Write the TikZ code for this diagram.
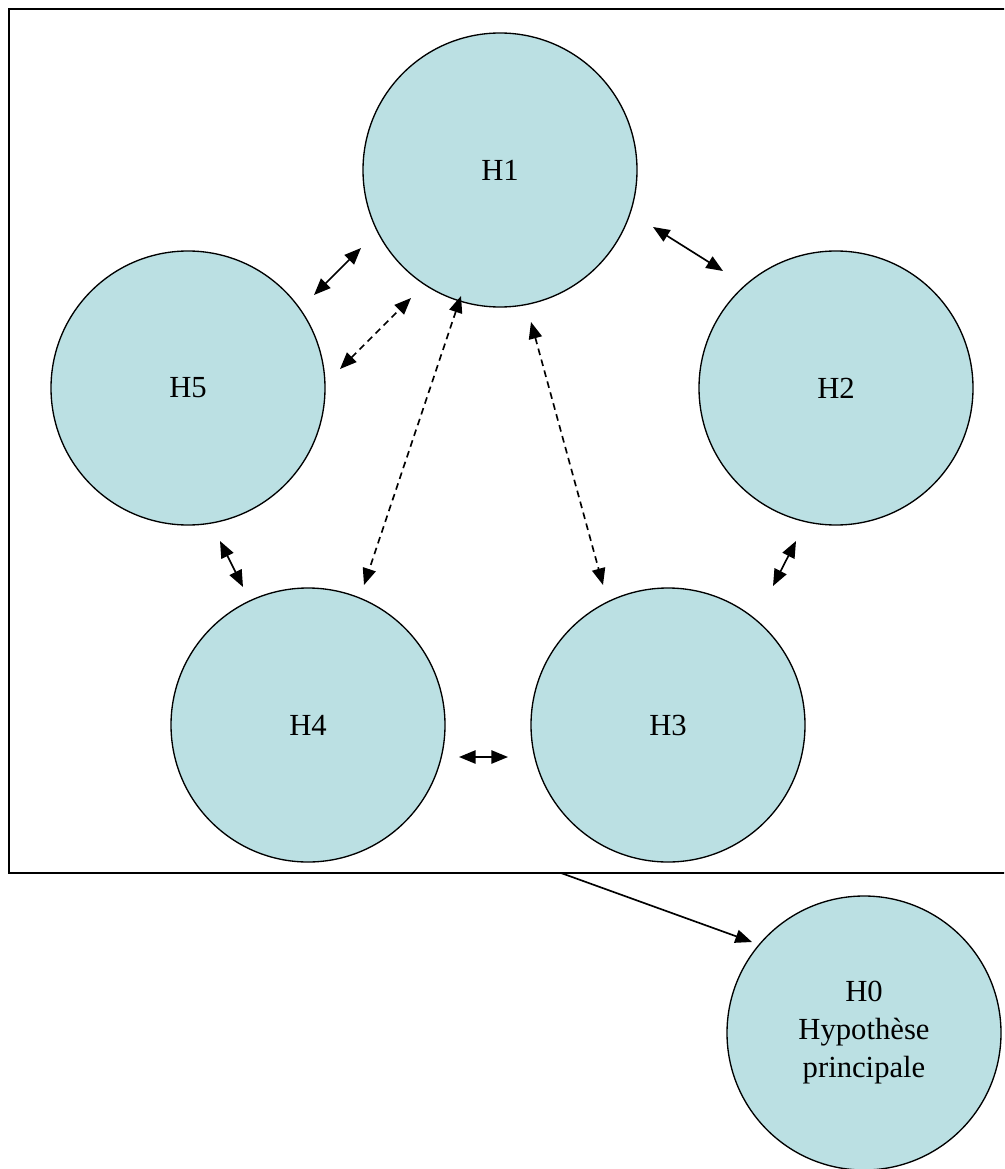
\documentclass[tikz,border=0pt]{standalone}
\usepackage{fontspec}
\setmainfont{Liberation Serif}
\usetikzlibrary{arrows.meta}
\definecolor{hfill}{HTML}{BBE0E3}
\tikzset{
  hyp/.style={circle, draw=black, line width=1pt, fill=hfill, inner sep=0pt,
    minimum size=205.5pt, font=\fontsize{23}{28.5}\selectfont, align=center},
  link/.style={line width=1.25pt, {Triangle[length=12.5pt,width=10pt]}-{Triangle[length=12.5pt,width=10pt]}},
  dlink/.style={link, dash pattern=on 5pt off 3.5pt},
  frame/.style={draw=black, line width=1.4pt}
}
\begin{document}
\begin{tikzpicture}[x=0.75pt,y=-0.75pt]
\useasboundingbox (0,0) rectangle (1004,1169);
\begin{scope}
\clip (0,0) rectangle (1004,1169);
\draw[frame] (9,9) rectangle (1015,873);
\end{scope}
\node[hyp] (H1) at (500,170) {H1};
\node[hyp] (H2) at (836,388) {H2};
\node[hyp] (H5) at (188,388) {H5};
\node[hyp] (H4) at (308,725) {H4};
\node[hyp] (H3) at (668,725) {H3};
\node[hyp] (H0) at (864,1033) {H0\\Hypothèse\\principale};
% arrow end points
\coordinate (a1) at (314,295); \coordinate (a2) at (361,248);
\coordinate (b1) at (340,369); \coordinate (b2) at (411,298);
\coordinate (c1) at (461,296); \coordinate (c2) at (364,585);
\coordinate (d1) at (531,322); \coordinate (d2) at (603,585);
\coordinate (e1) at (653,227); \coordinate (e2) at (723,271);
\coordinate (f1) at (220,541); \coordinate (f2) at (243,587);
\coordinate (g1) at (796,541); \coordinate (g2) at (773,586);
\coordinate (h1) at (459,757); \coordinate (h2) at (508,757);
\coordinate (s0) at (561,873); \coordinate (t0) at (752,942);
\draw[link] (a1) -- (a2);
\draw[dlink] (b1) -- (b2);
\draw[dlink] (c1) -- (c2);
\draw[dlink] (d1) -- (d2);
\draw[link] (e1) -- (e2);
\draw[link] (f1) -- (f2);
\draw[link] (g1) -- (g2);
\draw[link] (h1) -- (h2);
\draw[line width=1.25pt, -{Triangle[length=12.5pt,width=10pt]}] (s0) -- (t0);
\end{tikzpicture}
\end{document}
